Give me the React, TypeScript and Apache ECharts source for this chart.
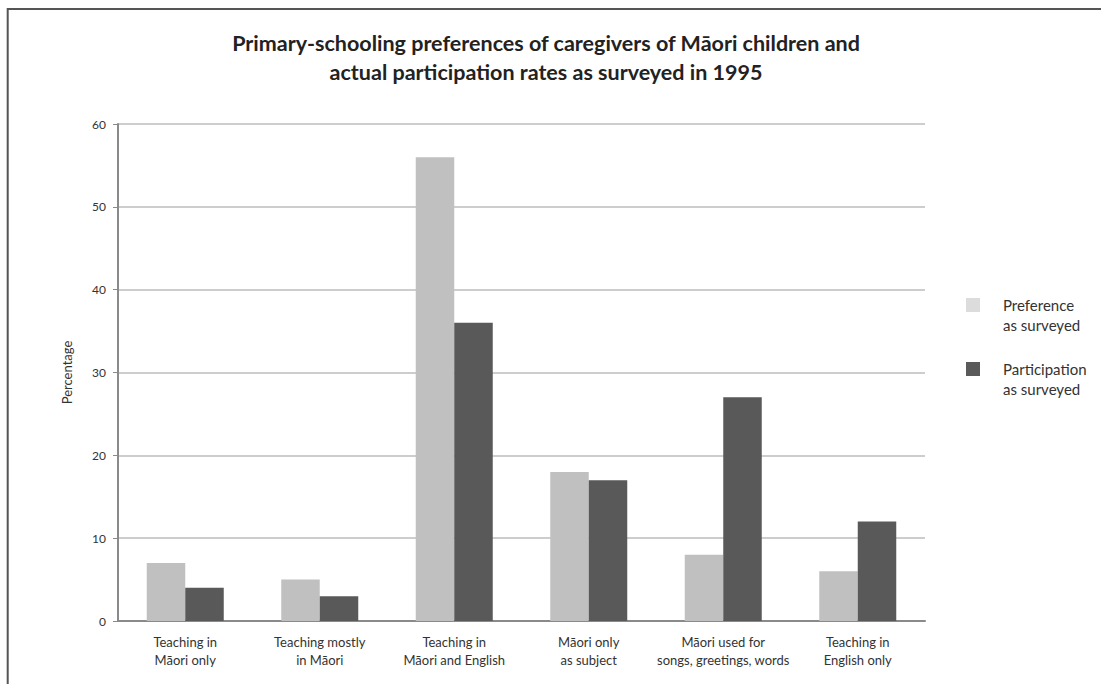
import React, { useEffect, useRef } from "react";
import * as echarts from "echarts";

const categories = [
  "Teaching in\nMāori only",
  "Teaching mostly\nin Māori",
  "Teaching in\nMāori and English",
  "Māori only\nas subject",
  "Māori used for\nsongs, greetings, words",
  "Teaching in\nEnglish only",
];
const preference = [7, 5, 56, 18, 8, 6];
const participation = [4, 3, 36, 17, 27, 12];
const seriesNames = ["Preference\nas surveyed", "Participation\nas surveyed"];
const titleText =
  "Primary-schooling preferences of caregivers of Māori children and\nactual participation rates as surveyed in 1995";

export default function App() {
  const ref = useRef<HTMLDivElement>(null);
  useEffect(() => {
    if (!ref.current) return;
    const chart = echarts.init(ref.current, null, { renderer: "svg" });
    const font = "Lato";
    const legendText = {
      fontFamily: font,
      fontSize: 15,
      lineHeight: 20,
      color: "#333",
      padding: [0, 0, 0, 18],
    };
    const legendFormatter = (name: string) => "\n" + name;
    chart.setOption({
      animation: false,
      backgroundColor: "#ffffff",
      textStyle: { fontFamily: font },
      title: {
        text: titleText,
        left: 541,
        top: 23,
        textAlign: "center",
        textStyle: {
          fontFamily: font,
          fontWeight: "bold",
          fontSize: 21.5,
          lineHeight: 29,
          color: "#222",
        },
      },
      graphic: [
        {
          type: "rect",
          shape: { x: 7.7, y: 9, width: 1300, height: 900 },
          style: { fill: "none", stroke: "#555", lineWidth: 2 },
          silent: true,
        },
      ],
      legend: [
        {
          orient: "vertical",
          left: 966,
          top: 275,
          padding: 0,
          itemWidth: 14,
          itemHeight: 14,
          icon: "rect",
          formatter: legendFormatter,
          data: [{ name: seriesNames[0], itemStyle: { color: "#dcdcdc" } }],
          textStyle: legendText,
          selectedMode: false,
        },
        {
          orient: "vertical",
          left: 966,
          top: 339,
          padding: 0,
          itemWidth: 14,
          itemHeight: 14,
          icon: "rect",
          formatter: legendFormatter,
          data: [{ name: seriesNames[1], itemStyle: { color: "#5a5a5a" } }],
          textStyle: legendText,
          selectedMode: false,
        },
      ],
      grid: { left: 118, right: 176, top: 124, bottom: 63 },
      xAxis: {
        type: "category",
        data: categories,
        axisLine: { lineStyle: { color: "#8a8a8a", width: 2 } },
        axisTick: { length: 5, lineStyle: { color: "#8a8a8a" } },
        axisLabel: {
          fontFamily: font,
          fontSize: 13,
          lineHeight: 18,
          color: "#333",
          margin: 12,
          interval: 0,
        },
      },
      yAxis: {
        type: "value",
        min: 0,
        max: 60,
        interval: 10,
        name: "Percentage",
        nameLocation: "middle",
        nameGap: 45,
        nameTextStyle: { fontFamily: font, fontSize: 13, color: "#333" },
        axisLine: { show: true, lineStyle: { color: "#8a8a8a", width: 2 } },
        axisTick: { show: true, length: 5, lineStyle: { color: "#8a8a8a" } },
        axisLabel: { fontFamily: font, fontSize: 12, color: "#333", margin: 12 },
        splitLine: { lineStyle: { color: "#bdbdbd", width: 1.5 } },
      },
      series: [
        {
          name: seriesNames[0],
          type: "bar",
          data: preference,
          barWidth: 38.5,
          barGap: "0%",
          itemStyle: { color: "#c0c0c0" },
        },
        {
          name: seriesNames[1],
          type: "bar",
          data: participation,
          barWidth: 38.5,
          barGap: "0%",
          itemStyle: { color: "#585958" },
        },
      ],
    });
    return () => chart.dispose();
  }, []);
  return (
    <div
      ref={ref}
      style={{ position: "fixed", left: 0, top: 0, width: 1101, height: 684 }}
    />
  );
}
